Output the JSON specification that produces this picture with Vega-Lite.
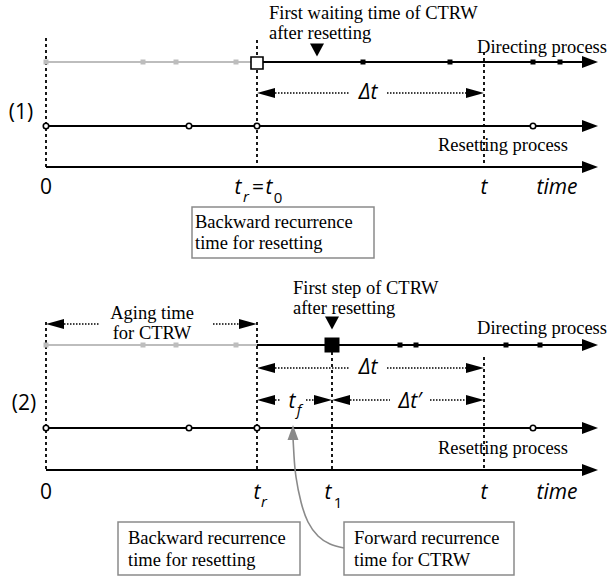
{
"$schema": "https://vega.github.io/schema/vega-lite/v6.json",
"width": 608, "height": 578,
"autosize": {"type": "fit", "contains": "padding"},
"padding": 0,
"background": "white",
"config": {"view": {"stroke": null}},
"datasets": {
"hlines": [
{"x": 46, "x2": 251, "y": 62, "phase": "before"},
{"x": 263, "x2": 586, "y": 62, "phase": "after"},
{"x": 46, "x2": 586, "y": 126, "phase": "after"},
{"x": 46, "x2": 586, "y": 167, "phase": "after"},
{"x": 46, "x2": 257, "y": 345, "phase": "before"},
{"x": 257, "x2": 586, "y": 345, "phase": "after"},
{"x": 46, "x2": 586, "y": 428, "phase": "after"},
{"x": 46, "x2": 586, "y": 470, "phase": "after"}
],
"axisheads": [
{"x": 598, "y": 62}, {"x": 598, "y": 126}, {"x": 598, "y": 167},
{"x": 598, "y": 345}, {"x": 598, "y": 428}, {"x": 598, "y": 470}
],
"vdash": [
{"x": 46, "y": 38, "y2": 167}, {"x": 257, "y": 40, "y2": 167}, {"x": 484, "y": 52, "y2": 167},
{"x": 46, "y": 322, "y2": 470}, {"x": 257, "y": 322, "y2": 470}, {"x": 332, "y": 352, "y2": 470}, {"x": 484, "y": 357, "y2": 470}
],
"dots": [
{"x": 275, "x2": 350, "y": 93}, {"x": 387, "x2": 467, "y": 93},
{"x": 64, "x2": 100, "y": 324}, {"x": 213, "x2": 240, "y": 324},
{"x": 275, "x2": 350, "y": 368}, {"x": 387, "x2": 467, "y": 368},
{"x": 275, "x2": 281, "y": 400}, {"x": 306, "x2": 314, "y": 400},
{"x": 350, "x2": 390, "y": 400}, {"x": 430, "x2": 467, "y": 400}
],
"heads": [
{"x": 257, "y": 93, "dir": "left"}, {"x": 484, "y": 93, "dir": "right"},
{"x": 46, "y": 324, "dir": "left"}, {"x": 257, "y": 324, "dir": "right"},
{"x": 257, "y": 368, "dir": "left"}, {"x": 484, "y": 368, "dir": "right"},
{"x": 257, "y": 400, "dir": "left"}, {"x": 332, "y": 400, "dir": "right"},
{"x": 332, "y": 400, "dir": "left"}, {"x": 484, "y": 400, "dir": "right"}
],
"steps": [
{"x": 46, "y": 62, "phase": "before"}, {"x": 143, "y": 62, "phase": "before"}, {"x": 176, "y": 62, "phase": "before"}, {"x": 236, "y": 62, "phase": "before"},
{"x": 363, "y": 62, "phase": "after"}, {"x": 450, "y": 62, "phase": "after"}, {"x": 533, "y": 62, "phase": "after"}, {"x": 560, "y": 62, "phase": "after"},
{"x": 46, "y": 345, "phase": "before"}, {"x": 143, "y": 345, "phase": "before"}, {"x": 176, "y": 345, "phase": "before"}, {"x": 236, "y": 345, "phase": "before"},
{"x": 400, "y": 345, "phase": "after"}, {"x": 416, "y": 345, "phase": "after"}, {"x": 506, "y": 345, "phase": "after"}, {"x": 540, "y": 345, "phase": "after"}
],
"resets": [
{"x": 46, "y": 126}, {"x": 189, "y": 126}, {"x": 257, "y": 126}, {"x": 533, "y": 126},
{"x": 46, "y": 428}, {"x": 189, "y": 428}, {"x": 257, "y": 428}, {"x": 533, "y": 428}
],
"firstwait": [{"x": 257, "y": 63}],
"firststep": [{"x": 332, "y": 345}],
"pointers": [{"x": 317, "y": 50}, {"x": 332, "y": 323}],
"curve": [
{"i": 1, "x": 344, "y": 548}, {"i": 2, "x": 330, "y": 544}, {"i": 3, "x": 318, "y": 536},
{"i": 4, "x": 308, "y": 522}, {"i": 5, "x": 301, "y": 502}, {"i": 6, "x": 296, "y": 477},
{"i": 7, "x": 294, "y": 456}, {"i": 8, "x": 293, "y": 438}
],
"curvehead": [{"x": 293, "y": 425}],
"boxes": [
{"x": 192, "x2": 374, "y": 207, "y2": 258},
{"x": 118, "x2": 300, "y": 522, "y2": 575},
{"x": 344, "x2": 514, "y": 522, "y2": 575}
],
"serifLeft": [
{"x": 269, "y": 13, "label": "First waiting time of CTRW"},
{"x": 269, "y": 33, "label": "after resetting"},
{"x": 438, "y": 145, "label": "Resetting process"},
{"x": 195, "y": 222, "label": "Backward recurrence"},
{"x": 195, "y": 243, "label": "time for resetting"},
{"x": 293, "y": 288, "label": "First step of CTRW"},
{"x": 293, "y": 308, "label": "after resetting"},
{"x": 438, "y": 448, "label": "Resetting process"},
{"x": 128, "y": 538, "label": "Backward recurrence"},
{"x": 128, "y": 560, "label": "time for resetting"},
{"x": 354, "y": 538, "label": "Forward recurrence"},
{"x": 354, "y": 560, "label": "time for CTRW"}
],
"serifRight": [
{"x": 607, "y": 47, "label": "Directing process"},
{"x": 607, "y": 328, "label": "Directing process"}
],
"serifCenter": [
{"x": 152, "y": 313, "label": "Aging time"},
{"x": 152, "y": 333, "label": "for CTRW"}
],
"sansUp": [
{"x": 46, "y": 188, "label": "0"}, {"x": 46, "y": 493, "label": "0"},
{"x": 21, "y": 113, "label": "(1)"}, {"x": 24, "y": 404, "label": "(2)"},
{"x": 258, "y": 188, "label": "="}
],
"sansIt": [
{"x": 238, "y": 188, "label": "t"}, {"x": 269, "y": 188, "label": "t"},
{"x": 484, "y": 188, "label": "t"}, {"x": 557, "y": 188, "label": "time"},
{"x": 368, "y": 93, "label": "Δt"},
{"x": 257, "y": 493, "label": "t"}, {"x": 328, "y": 493, "label": "t"},
{"x": 484, "y": 493, "label": "t"}, {"x": 557, "y": 493, "label": "time"},
{"x": 368, "y": 368, "label": "Δt"},
{"x": 292, "y": 402, "label": "t"}, {"x": 410, "y": 402, "label": "Δt′"}
],
"subIt": [
{"x": 246, "y": 197, "label": "r"}, {"x": 264, "y": 502, "label": "r"}, {"x": 299, "y": 410, "label": "f"}
],
"subUp": [
{"x": 278, "y": 198, "label": "0"}, {"x": 338, "y": 503, "label": "1"}
]
},
"encoding": {
"x": {"field": "x", "type": "quantitative", "scale": {"domain": [0, 608], "nice": false, "zero": false}, "axis": null},
"y": {"field": "y", "type": "quantitative", "scale": {"domain": [0, 578], "nice": false, "zero": false, "reverse": true}, "axis": null}
},
"layer": [
{"data": {"name": "vdash"}, "mark": {"type": "rule", "color": "#000", "strokeWidth": 1.8, "strokeDash": [3, 3]},
 "encoding": {"y2": {"field": "y2"}}},
{"data": {"name": "hlines"}, "mark": {"type": "rule", "strokeWidth": 2},
 "encoding": {"x2": {"field": "x2"}, "color": {"field": "phase", "type": "nominal", "scale": {"domain": ["before", "after"], "range": ["#bdbdbd", "#000000"]}, "legend": null}}},
{"data": {"name": "axisheads"}, "mark": {"type": "point", "shape": "M0,0L-2,-0.75L-2,0.75Z", "size": 256, "filled": true, "color": "#000", "opacity": 1}},
{"data": {"name": "dots"}, "mark": {"type": "rule", "color": "#000", "strokeWidth": 1.7, "strokeDash": [1.5, 1.5]},
 "encoding": {"x2": {"field": "x2"}}},
{"data": {"name": "heads"}, "transform": [{"filter": "datum.dir === 'right'"}],
 "mark": {"type": "point", "shape": "M0,0L-2,-0.55L-2,0.55Z", "size": 324, "filled": true, "color": "#000", "opacity": 1}},
{"data": {"name": "heads"}, "transform": [{"filter": "datum.dir === 'left'"}],
 "mark": {"type": "point", "shape": "M0,0L2,-0.55L2,0.55Z", "size": 324, "filled": true, "color": "#000", "opacity": 1}},
{"data": {"name": "steps"}, "mark": {"type": "square", "size": 25, "opacity": 1},
 "encoding": {"color": {"field": "phase", "type": "nominal", "legend": null}}},
{"data": {"name": "resets"}, "mark": {"type": "point", "shape": "circle", "size": 30, "fill": "white", "stroke": "#000", "strokeWidth": 1.6, "opacity": 1, "filled": false, "fillOpacity": 1}},
{"data": {"name": "firstwait"}, "mark": {"type": "point", "shape": "square", "size": 144, "fill": "white", "stroke": "#000", "strokeWidth": 1.6, "opacity": 1, "fillOpacity": 1}},
{"data": {"name": "firststep"}, "mark": {"type": "point", "shape": "square", "size": 225, "filled": true, "color": "#000", "opacity": 1}},
{"data": {"name": "pointers"}, "mark": {"type": "point", "shape": "M-1,-0.93L1,-0.93L0,0.93Z", "size": 196, "filled": true, "color": "#000", "opacity": 1}},
{"data": {"name": "boxes"}, "mark": {"type": "rect", "fill": "white", "stroke": "#8a8a8a", "strokeWidth": 1.5},
 "encoding": {"x2": {"field": "x2"}, "y2": {"field": "y2"}}},
{"data": {"name": "curve"}, "mark": {"type": "line", "color": "#8a8a8a", "strokeWidth": 1.6, "interpolate": "natural"},
 "encoding": {"order": {"field": "i", "type": "quantitative"}}},
{"data": {"name": "curvehead"}, "mark": {"type": "point", "shape": "M0,0L-0.73,2L0.73,2Z", "size": 225, "filled": true, "color": "#8a8a8a", "opacity": 1}},
{"data": {"name": "serifLeft"}, "mark": {"type": "text", "font": "Liberation Serif", "fontSize": 18.5, "align": "left", "baseline": "middle", "color": "#000"},
 "encoding": {"text": {"field": "label"}}},
{"data": {"name": "serifRight"}, "mark": {"type": "text", "font": "Liberation Serif", "fontSize": 18.5, "align": "right", "baseline": "middle", "color": "#000"},
 "encoding": {"text": {"field": "label"}}},
{"data": {"name": "serifCenter"}, "mark": {"type": "text", "font": "Liberation Serif", "fontSize": 18.5, "align": "center", "baseline": "middle", "color": "#000"},
 "encoding": {"text": {"field": "label"}}},
{"data": {"name": "sansUp"}, "mark": {"type": "text", "font": "Open Sans", "fontSize": 21, "align": "center", "baseline": "middle", "color": "#000"},
 "encoding": {"text": {"field": "label"}}},
{"data": {"name": "sansIt"}, "mark": {"type": "text", "font": "Open Sans", "fontSize": 21, "fontStyle": "italic", "align": "center", "baseline": "middle", "color": "#000"},
 "encoding": {"text": {"field": "label"}}},
{"data": {"name": "subIt"}, "mark": {"type": "text", "font": "Open Sans", "fontSize": 15, "fontStyle": "italic", "align": "center", "baseline": "middle", "color": "#000"},
 "encoding": {"text": {"field": "label"}}},
{"data": {"name": "subUp"}, "mark": {"type": "text", "font": "Open Sans", "fontSize": 15, "align": "center", "baseline": "middle", "color": "#000"},
 "encoding": {"text": {"field": "label"}}}
]
}
